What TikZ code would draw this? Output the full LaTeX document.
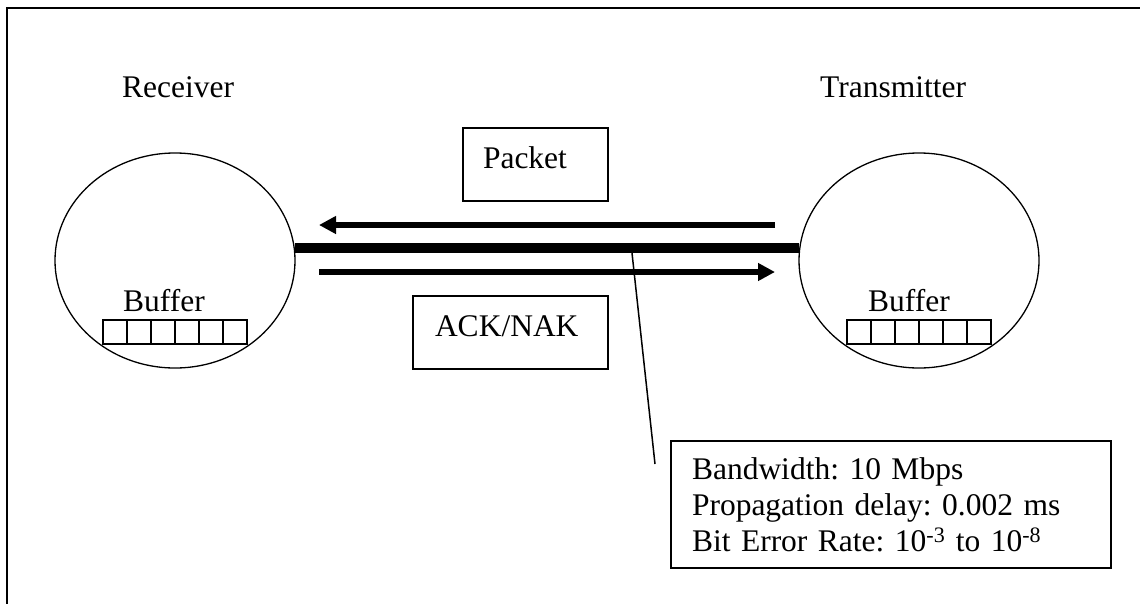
\documentclass[tikz,border=0pt]{standalone}
\usepackage{fontspec}
\setmainfont{Liberation Serif}
\usetikzlibrary{arrows.meta,shapes.geometric}
\frenchspacing

\tikzset{
	txt/.style={inner sep=0pt, anchor=base west},
	station/.style={ellipse, draw, line width=1.3pt, minimum width=240pt, minimum height=215pt, inner sep=0pt},
	msgbox/.style={draw, line width=1.5pt, minimum height=73pt, text height=21.5pt, text depth=14pt, align=left},
	link/.style={line width=10pt},
	flow/.style={line width=6pt, -{Triangle[length=17pt,width=17pt]}},
}

\begin{document}
\begin{tikzpicture}[x=1pt,y=-1pt, every node/.style={font=\fontsize{31.5}{36}\selectfont}]
\useasboundingbox (0,0) rectangle (1140,603);
\draw[line width=2pt] (7,8) rectangle (1150,615);

% the two stations
\node[station] (rx) at (175,260.5) {};
\node[station] (tx) at (919,260.5) {};
\node[txt] (rxlabel) at (122,97) {Receiver};
\node[txt] (txlabel) at (820,97) {Transmitter};

% buffers
\node[txt] (rxbuf) at (123,311) {Buffer};
\node[txt] (txbuf) at (868,311) {Buffer};
\foreach \i in {0,...,5}{
	\draw[line width=1.3pt] (103+24*\i,320) rectangle ++(24,24);
	\draw[line width=1.3pt] (847+24*\i,320) rectangle ++(24,24);
}

% channel
\draw[link] (rx.6) -- (tx.174);
\coordinate (pktstart) at (775,225);
\coordinate (pktend) at (319,225);
\coordinate (ackstart) at (319,272);
\coordinate (ackend) at (775,272);
\draw[flow] (pktstart) -- (pktend);
\draw[flow] (ackstart) -- (ackend);

\node[msgbox, inner xsep=20pt, text width=105pt] (pkt) at (535.5,164.5) {Packet};
\node[msgbox, inner xsep=22pt, text width=151pt] (ack) at (510.5,332.5) {ACK/NAK};

% channel parameters
\coordinate (tap) at (632,253);
\coordinate (lead) at (655,464);
\draw[line width=1.5pt] (tap) -- (lead);
\node[draw, line width=1.5pt, minimum width=440pt, minimum height=127pt, text width=398pt, inner xsep=21pt, align=left] (info) at (891,504.5)
	{Bandwidth: 10 Mbps\\Propagation delay: 0.002 ms\\Bit Error Rate: 10\textsuperscript{-3} to 10\textsuperscript{-8}};
\end{tikzpicture}
\end{document}
